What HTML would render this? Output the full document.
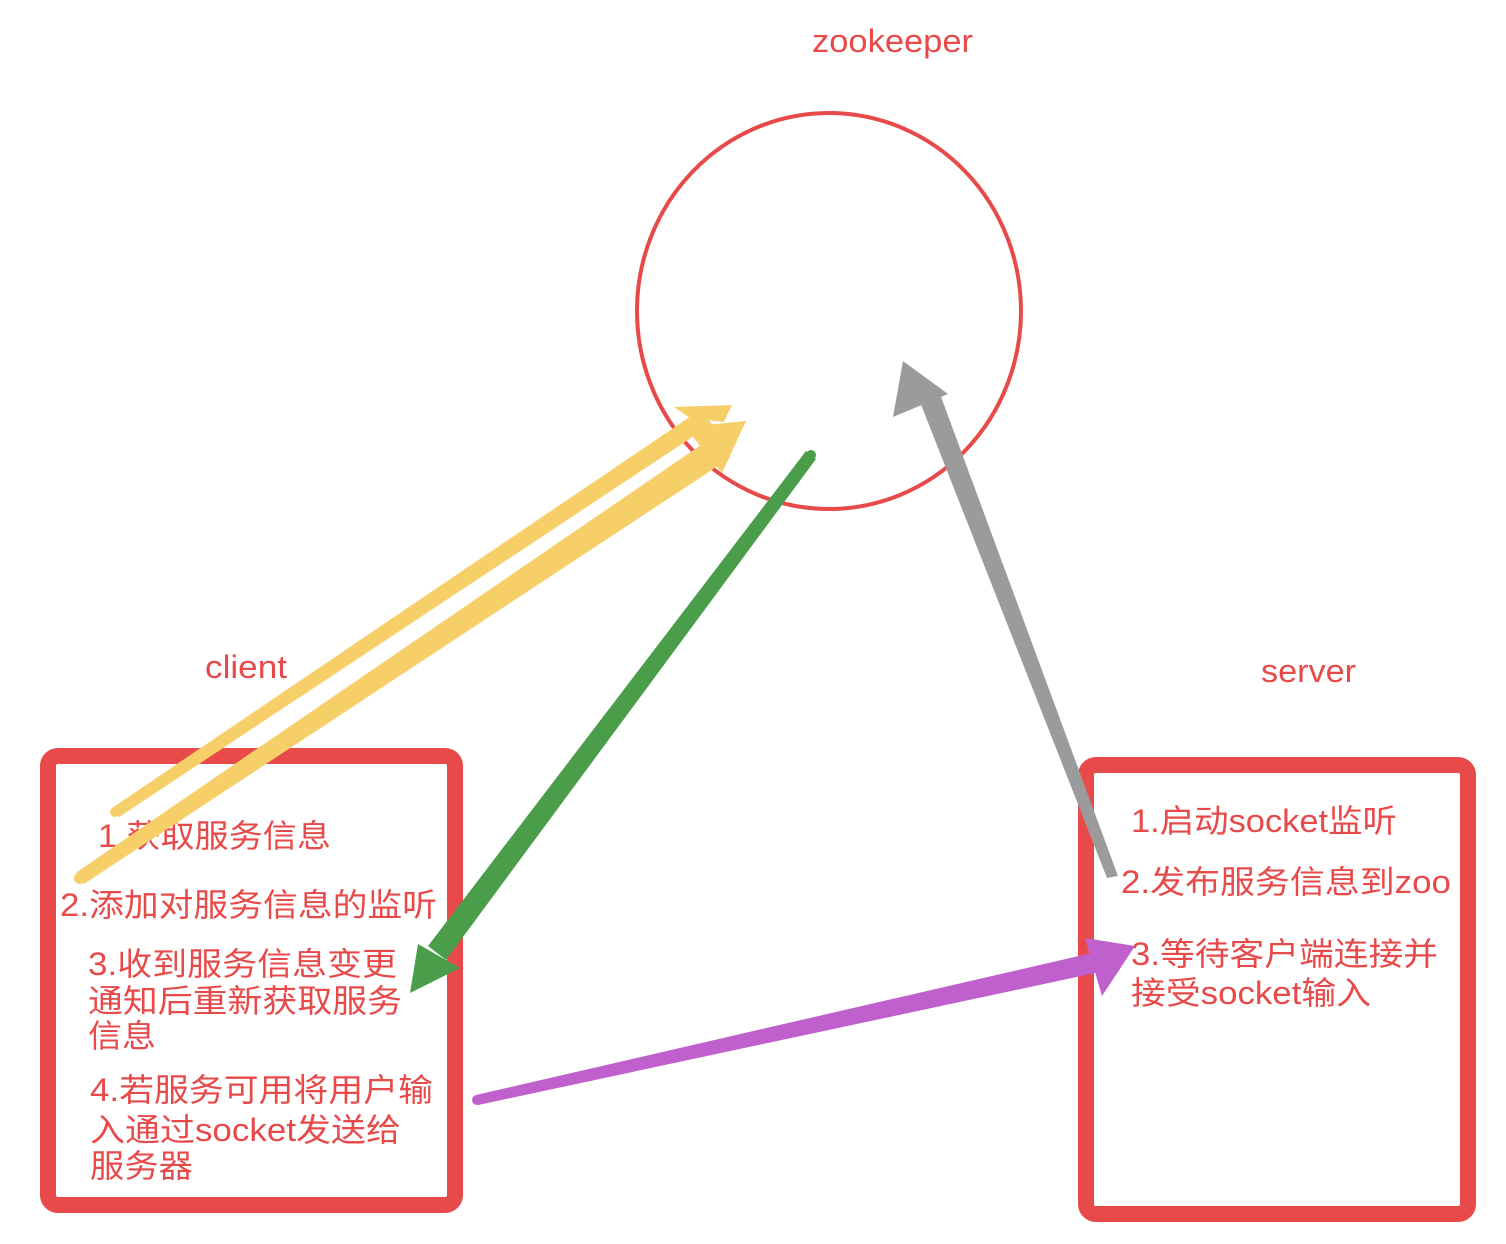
<!DOCTYPE html>
<html><head><meta charset="utf-8"><style>
body{margin:0;background:#fff;}
svg{display:block}
text{font-family:"Liberation Sans","Noto Sans CJK SC",sans-serif;fill:#e84a4a;font-size:32px;}
</style></head><body>
<svg width="1506" height="1244" viewBox="0 0 1506 1244" xmlns="http://www.w3.org/2000/svg">
<text x="812" y="52" textLength="161" lengthAdjust="spacingAndGlyphs">zookeeper</text>
<text x="205" y="678" textLength="82" lengthAdjust="spacingAndGlyphs">client</text>
<text x="1261" y="682" textLength="95" lengthAdjust="spacingAndGlyphs">server</text>
<ellipse cx="829" cy="311" rx="192" ry="198" fill="none" stroke="#e84a4a" stroke-width="4"/>
<rect x="48" y="756" width="407" height="449" rx="10" fill="none" stroke="#e84a4a" stroke-width="16"/>
<rect x="1086" y="765" width="382" height="449" rx="10" fill="none" stroke="#e84a4a" stroke-width="16"/>
<text x="98" y="847" textLength="233" lengthAdjust="spacingAndGlyphs">1.获取服务信息</text>
<text x="60" y="916" textLength="377" lengthAdjust="spacingAndGlyphs">2.添加对服务信息的监听</text>
<text x="88" y="975" textLength="309" lengthAdjust="spacingAndGlyphs">3.收到服务信息变更</text>
<text x="88" y="1012" textLength="314" lengthAdjust="spacingAndGlyphs">通知后重新获取服务</text>
<text x="88" y="1047" textLength="68" lengthAdjust="spacingAndGlyphs">信息</text>
<text x="90" y="1101" textLength="343" lengthAdjust="spacingAndGlyphs">4.若服务可用将用户输</text>
<text x="90" y="1141" textLength="311" lengthAdjust="spacingAndGlyphs">入通过socket发送给</text>
<text x="90" y="1177" textLength="103" lengthAdjust="spacingAndGlyphs">服务器</text>
<text x="1131" y="832" textLength="266" lengthAdjust="spacingAndGlyphs">1.启动socket监听</text>
<text x="1121" y="893" textLength="330" lengthAdjust="spacingAndGlyphs">2.发布服务信息到zoo</text>
<text x="1131" y="965" textLength="307" lengthAdjust="spacingAndGlyphs">3.等待客户端连接并</text>
<text x="1131" y="1004" textLength="240" lengthAdjust="spacingAndGlyphs">接受socket输入</text>
<g fill="#f7cf69">
<polygon points="112,808 119,817 712,424 700,410"/>
<circle cx="115" cy="812" r="5"/>
<polygon points="732,405 674,407 690,418 724,422"/>
<polygon points="77,872 84,884 730,458 714,436"/>
<circle cx="80" cy="878" r="6"/>
<polygon points="746,421 685,427 722,473"/>
</g>
<polygon points="806,451 816,459 446,960 428,946" fill="#4a9e4a"/>
<circle cx="811" cy="455" r="5" fill="#4a9e4a"/>
<polygon points="410,993 418,944 460,968" fill="#4a9e4a"/>
<polygon points="1107,878 1118,876 940,394 920,402" fill="#9b9b9b"/>
<polygon points="903,361 893,417 948,394" fill="#9b9b9b"/>
<polygon points="476,1095 478,1105 1100,972 1096,952" fill="#c060cc"/>
<circle cx="477" cy="1100" r="5" fill="#c060cc"/>
<polygon points="1135,946 1085,938 1102,996" fill="#c060cc"/>
</svg>
</body></html>
